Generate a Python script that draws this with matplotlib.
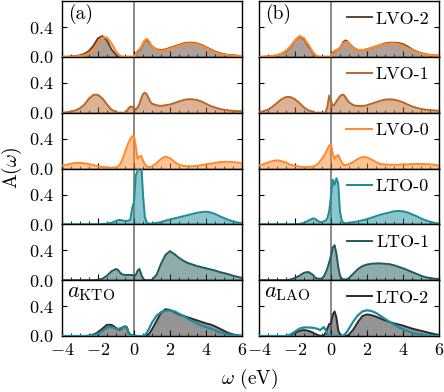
import matplotlib
matplotlib.use("Agg")
import matplotlib.pyplot as plt
import numpy as np

plt.rcParams['font.family'] = 'serif'
plt.rcParams['font.serif'] = ['cmr10']
plt.rcParams['mathtext.fontset'] = 'cm'
plt.rcParams['axes.unicode_minus'] = False

omega = [-4.0, -3.75, -3.5, -3.25, -3.0, -2.75, -2.5, -2.25, -2.0, -1.75, -1.5, -1.25, -1.0,
         -0.9, -0.8, -0.7, -0.6, -0.5, -0.4, -0.3, -0.2, -0.1, 0.0, 0.1, 0.2, 0.3, 0.4, 0.5, 0.6, 0.7, 0.8, 0.9,
         1.0, 1.25, 1.5, 1.75, 2.0, 2.25, 2.5, 2.75, 3.0, 3.25, 3.5, 3.75, 4.0, 4.25, 4.5, 4.75, 5.0, 5.25, 5.5, 5.75, 6.0]

# ---- (a) KTO column ----
kto_lvo2 = [0.0, 0.0, 0.005, 0.01, 0.02, 0.04, 0.08, 0.15, 0.25, 0.28, 0.22, 0.10, 0.03,
            0.01, 0, 0, 0, 0, 0, 0, 0, 0, 0, 0.03, 0.07, 0.09, 0.12, 0.17, 0.21, 0.23, 0.21, 0.17,
            0.14, 0.10, 0.09, 0.10, 0.12, 0.14, 0.16, 0.18, 0.19, 0.19, 0.18, 0.16, 0.13, 0.10, 0.07, 0.05, 0.035, 0.025, 0.02, 0.015, 0.01]
kto_lvo2_ref = [0.0, 0.0, 0.0, 0.005, 0.01, 0.02, 0.05, 0.10, 0.18, 0.26, 0.26, 0.18, 0.07,
                0.04, 0.02, 0.005, 0, 0, 0, 0, 0, 0, 0, 0.04, 0.08, 0.10, 0.13, 0.18, 0.22, 0.24, 0.22, 0.18,
                0.14, 0.09, 0.08, 0.09, 0.11, 0.13, 0.15, 0.17, 0.18, 0.18, 0.17, 0.15, 0.12, 0.09, 0.06, 0.04, 0.03, 0.02, 0.015, 0.01, 0.01]
kto_lvo1 = [0.0, 0.005, 0.015, 0.03, 0.06, 0.11, 0.19, 0.24, 0.24, 0.19, 0.11, 0.04, 0.01,
            0, 0, 0, 0, 0.005, 0.02, 0.06, 0.08, 0.08, 0.06, 0.04, 0.07, 0.12, 0.19, 0.25, 0.27, 0.25, 0.20, 0.15,
            0.12, 0.10, 0.09, 0.10, 0.11, 0.13, 0.15, 0.17, 0.18, 0.18, 0.17, 0.15, 0.12, 0.09, 0.07, 0.05, 0.04, 0.03, 0.025, 0.02, 0.02]
kto_lvo0 = [0.04, 0.05, 0.065, 0.075, 0.075, 0.07, 0.06, 0.045, 0.03, 0.02, 0.015, 0.01, 0.015,
            0.025, 0.05, 0.09, 0.15, 0.22, 0.29, 0.35, 0.40, 0.43, 0.44, 0.30, 0.13, 0.16, 0.17, 0.11, 0.06, 0.03, 0.02, 0.02,
            0.03, 0.07, 0.13, 0.16, 0.14, 0.09, 0.05, 0.035, 0.03, 0.03, 0.035, 0.045, 0.055, 0.065, 0.075, 0.085, 0.09, 0.09, 0.085, 0.08, 0.07]
kto_lto0 = [0, 0, 0, 0, 0, 0, 0, 0, 0, 0.005, 0.01, 0.02, 0.045,
            0.055, 0.06, 0.055, 0.05, 0.045, 0.045, 0.05, 0.07, 0.22, 0.30, 0.66, 0.72, 0.85, 0.85, 0.40, 0.10, 0.03, 0.01, 0.01,
            0.01, 0.02, 0.03, 0.05, 0.065, 0.08, 0.095, 0.11, 0.125, 0.14, 0.155, 0.165, 0.17, 0.16, 0.14, 0.11, 0.085, 0.06, 0.04, 0.025, 0.015]
kto_lto1 = [0, 0, 0, 0, 0, 0, 0, 0, 0.005, 0.02, 0.06, 0.12, 0.15,
            0.14, 0.11, 0.085, 0.075, 0.07, 0.07, 0.07, 0.07, 0.07, 0.06, 0.07, 0.13, 0.15, 0.08, 0.02, 0.005, 0, 0, 0,
            0.005, 0.07, 0.22, 0.34, 0.39, 0.35, 0.30, 0.26, 0.23, 0.21, 0.19, 0.175, 0.16, 0.145, 0.13, 0.11, 0.095, 0.08, 0.06, 0.045, 0.03]
kto_lto2 = [0, 0, 0, 0, 0, 0, 0.005, 0.02, 0.05, 0.10, 0.15, 0.15, 0.11,
            0.09, 0.085, 0.10, 0.12, 0.13, 0.12, 0.05, 0.015, 0.01, 0.01, 0.005, 0, 0, 0, 0, 0, 0.005, 0.02, 0.05,
            0.09, 0.20, 0.31, 0.36, 0.35, 0.32, 0.29, 0.27, 0.25, 0.23, 0.21, 0.19, 0.17, 0.155, 0.13, 0.10, 0.07, 0.04, 0.02, 0.01, 0.005]
kto_lto2_ref = [0, 0, 0, 0, 0, 0, 0, 0.01, 0.03, 0.07, 0.11, 0.12, 0.10,
                0.095, 0.10, 0.11, 0.115, 0.12, 0.11, 0.04, 0.01, 0.005, 0, 0, 0, 0, 0, 0, 0.01, 0.04, 0.08, 0.13,
                0.18, 0.27, 0.32, 0.34, 0.345, 0.33, 0.30, 0.27, 0.23, 0.20, 0.17, 0.14, 0.12, 0.10, 0.075, 0.05, 0.035, 0.02, 0.01, 0.005, 0.0]

# ---- (b) LAO column ----
lao_lvo2 = [0, 0, 0.005, 0.01, 0.02, 0.04, 0.07, 0.13, 0.22, 0.27, 0.24, 0.14, 0.05,
            0.02, 0.005, 0, 0, 0, 0, 0, 0, 0, 0, 0.05, 0.07, 0.09, 0.10, 0.12, 0.16, 0.20, 0.22, 0.21,
            0.18, 0.12, 0.09, 0.09, 0.10, 0.12, 0.14, 0.16, 0.18, 0.19, 0.19, 0.185, 0.17, 0.14, 0.10, 0.07, 0.05, 0.035, 0.025, 0.02, 0.015]
lao_lvo2_ref = [0, 0, 0.005, 0.01, 0.02, 0.04, 0.08, 0.14, 0.22, 0.28, 0.25, 0.16, 0.06,
                0.03, 0.01, 0.005, 0, 0, 0, 0, 0, 0, 0, 0.06, 0.08, 0.09, 0.10, 0.12, 0.15, 0.18, 0.20, 0.20,
                0.17, 0.11, 0.09, 0.09, 0.10, 0.12, 0.14, 0.16, 0.17, 0.18, 0.18, 0.17, 0.15, 0.12, 0.09, 0.06, 0.045, 0.03, 0.025, 0.02, 0.015]
lao_lvo1 = [0.005, 0.02, 0.04, 0.08, 0.13, 0.18, 0.21, 0.21, 0.18, 0.13, 0.07, 0.03, 0.01,
            0, 0, 0, 0, 0, 0, 0.005, 0.08, 0.23, 0.15, 0.09, 0.11, 0.15, 0.19, 0.22, 0.24, 0.24, 0.21, 0.17,
            0.14, 0.10, 0.09, 0.09, 0.10, 0.12, 0.14, 0.16, 0.175, 0.18, 0.175, 0.16, 0.14, 0.11, 0.085, 0.065, 0.05, 0.04, 0.035, 0.03, 0.025]
lao_lvo0 = [0.04, 0.06, 0.08, 0.10, 0.11, 0.10, 0.08, 0.05, 0.035, 0.025, 0.02, 0.02, 0.025,
            0.035, 0.05, 0.07, 0.10, 0.13, 0.17, 0.21, 0.26, 0.31, 0.32, 0.20, 0.13, 0.17, 0.18, 0.13, 0.08, 0.05, 0.045, 0.05,
            0.06, 0.09, 0.13, 0.155, 0.15, 0.12, 0.085, 0.06, 0.055, 0.05, 0.05, 0.05, 0.055, 0.055, 0.06, 0.06, 0.06, 0.06, 0.055, 0.05, 0.04]
lao_lto0 = [0, 0, 0, 0, 0, 0, 0, 0, 0, 0.005, 0.02, 0.05, 0.08,
            0.075, 0.06, 0.04, 0.03, 0.03, 0.04, 0.05, 0.08, 0.18, 0.38, 0.60, 0.53, 0.62, 0.55, 0.17, 0.05, 0.02, 0.015, 0.015,
            0.02, 0.03, 0.04, 0.055, 0.07, 0.09, 0.11, 0.13, 0.145, 0.16, 0.175, 0.18, 0.175, 0.16, 0.135, 0.11, 0.08, 0.055, 0.035, 0.02, 0.01]
lao_lto1 = [0, 0, 0, 0, 0, 0, 0, 0.01, 0.03, 0.06, 0.10, 0.11, 0.07,
            0.04, 0.025, 0.02, 0.02, 0.025, 0.05, 0.10, 0.16, 0.24, 0.33, 0.44, 0.47, 0.36, 0.18, 0.06, 0.02, 0.01, 0.01, 0.015,
            0.03, 0.09, 0.15, 0.19, 0.21, 0.22, 0.225, 0.225, 0.22, 0.215, 0.20, 0.18, 0.16, 0.135, 0.11, 0.085, 0.06, 0.04, 0.03, 0.02, 0.015]
lao_lto2 = [0, 0, 0, 0, 0, 0, 0, 0.01, 0.04, 0.07, 0.08, 0.07, 0.045,
            0.03, 0.02, 0.01, 0.005, 0, 0.01, 0.04, 0.10, 0.16, 0.17, 0.29, 0.33, 0.25, 0.08, 0.02, 0.005, 0, 0, 0.005,
            0.02, 0.09, 0.19, 0.27, 0.29, 0.28, 0.26, 0.235, 0.21, 0.19, 0.17, 0.155, 0.14, 0.12, 0.10, 0.085, 0.07, 0.055, 0.04, 0.025, 0.015]
lao_lto2_ref = [0, 0, 0, 0, 0, 0, 0, 0.02, 0.06, 0.10, 0.115, 0.115, 0.11,
                0.105, 0.10, 0.09, 0.08, 0.10, 0.12, 0.08, 0.02, 0, 0, 0, 0, 0, 0, 0, 0, 0.01, 0.03, 0.06,
                0.10, 0.20, 0.28, 0.33, 0.345, 0.335, 0.31, 0.27, 0.23, 0.19, 0.155, 0.12, 0.09, 0.065, 0.045, 0.03, 0.02, 0.01, 0.005, 0, 0]

labels = ['LVO-2', 'LVO-1', 'LVO-0', 'LTO-0', 'LTO-1', 'LTO-2']
colors = ['#5b4332', '#b8672a', '#ff8a2e', '#1b8c98', '#1e5b5b', '#2b2b2b']
ref_rows = {0: 2, 5: 3}  # overlay curve colored like LVO-0 (row 0) / LTO-0 (row 5)

columns = [
    dict(curves=[kto_lvo2, kto_lvo1, kto_lvo0, kto_lto0, kto_lto1, kto_lto2],
         refs={0: kto_lvo2_ref, 5: kto_lto2_ref}, tag='(a)', sub=r'$a_{\mathrm{KTO}}$'),
    dict(curves=[lao_lvo2, lao_lvo1, lao_lvo0, lao_lto0, lao_lto1, lao_lto2],
         refs={0: lao_lvo2_ref, 5: lao_lto2_ref}, tag='(b)', sub=r'$a_{\mathrm{LAO}}$'),
]

W, H = 444, 392
fig = plt.figure(figsize=(W / 100, H / 100), dpi=100)
lefts = [62, 259]
axw = 180
top_px, bot_px = 1.0, 336.0
rowh = (bot_px - top_px) / 6

for c, col in enumerate(columns):
    for r in range(6):
        y0 = top_px + r * rowh
        ax = fig.add_axes([lefts[c] / W, 1 - (y0 + rowh) / H, axw / W, rowh / H])
        w = np.array(omega)
        v = np.array(col['curves'][r])
        ax.axvline(0, color='#8a8a8a', lw=1.4, zorder=1)
        ax.fill_between(w, 0, v, color=colors[r], alpha=0.5, lw=0, zorder=2)
        ax.plot(w, v, color=colors[r], lw=1.4, zorder=3, label=labels[r])
        if r in col['refs']:
            ax.plot(w, col['refs'][r], color=colors[ref_rows[r]], lw=1.6, zorder=4)
        ax.set_xlim(-4, 6)
        ax.set_ylim(0, 0.75)
        ax.set_xticks([-4, -2, 0, 2, 4, 6])
        ax.set_xticks(np.arange(-4, 6.01, 0.5), minor=True)
        ax.set_yticks([0.0, 0.4])
        ax.tick_params(axis='both', which='both', direction='in', top=False, right=True,
                       labelsize=13)
        ax.tick_params(axis='x', which='major', length=4.5, width=0.8, pad=4)
        ax.tick_params(axis='x', which='minor', length=2.5, width=0.6)
        ax.tick_params(axis='y', which='major', length=3.5, width=0.8, pad=6)
        for s in ax.spines.values():
            s.set_linewidth(1.0)
        if r == 5:
            ax.set_xticklabels(['$-4$', '$-2$', '$0$', '$2$', '$4$', '$6$'])
        else:
            ax.set_xticklabels([])
        if c == 0:
            ax.set_yticklabels(['$0.0$', '$0.4$'])
        else:
            ax.set_yticklabels([])
            ax.legend(loc='upper right', frameon=False, fontsize=13, handlelength=1.4,
                      handletextpad=0.2, borderaxespad=0.3, borderpad=0.25)
        if r == 0:
            ax.text(0.035, 0.95, col['tag'], transform=ax.transAxes, fontsize=14,
                    ha='left', va='top')
        if r == 5:
            ax.text(0.03, 0.94, col['sub'], transform=ax.transAxes, fontsize=16,
                    ha='left', va='top')

fig.text(12 / W, 1 - 168 / H, r'A($\omega$)', rotation=90, ha='center', va='center', fontsize=14)
fig.text(250 / W, 1 - 379 / H, r'$\omega$ (eV)', ha='center', va='center', fontsize=14)

fig.savefig('out.png', dpi=100)
